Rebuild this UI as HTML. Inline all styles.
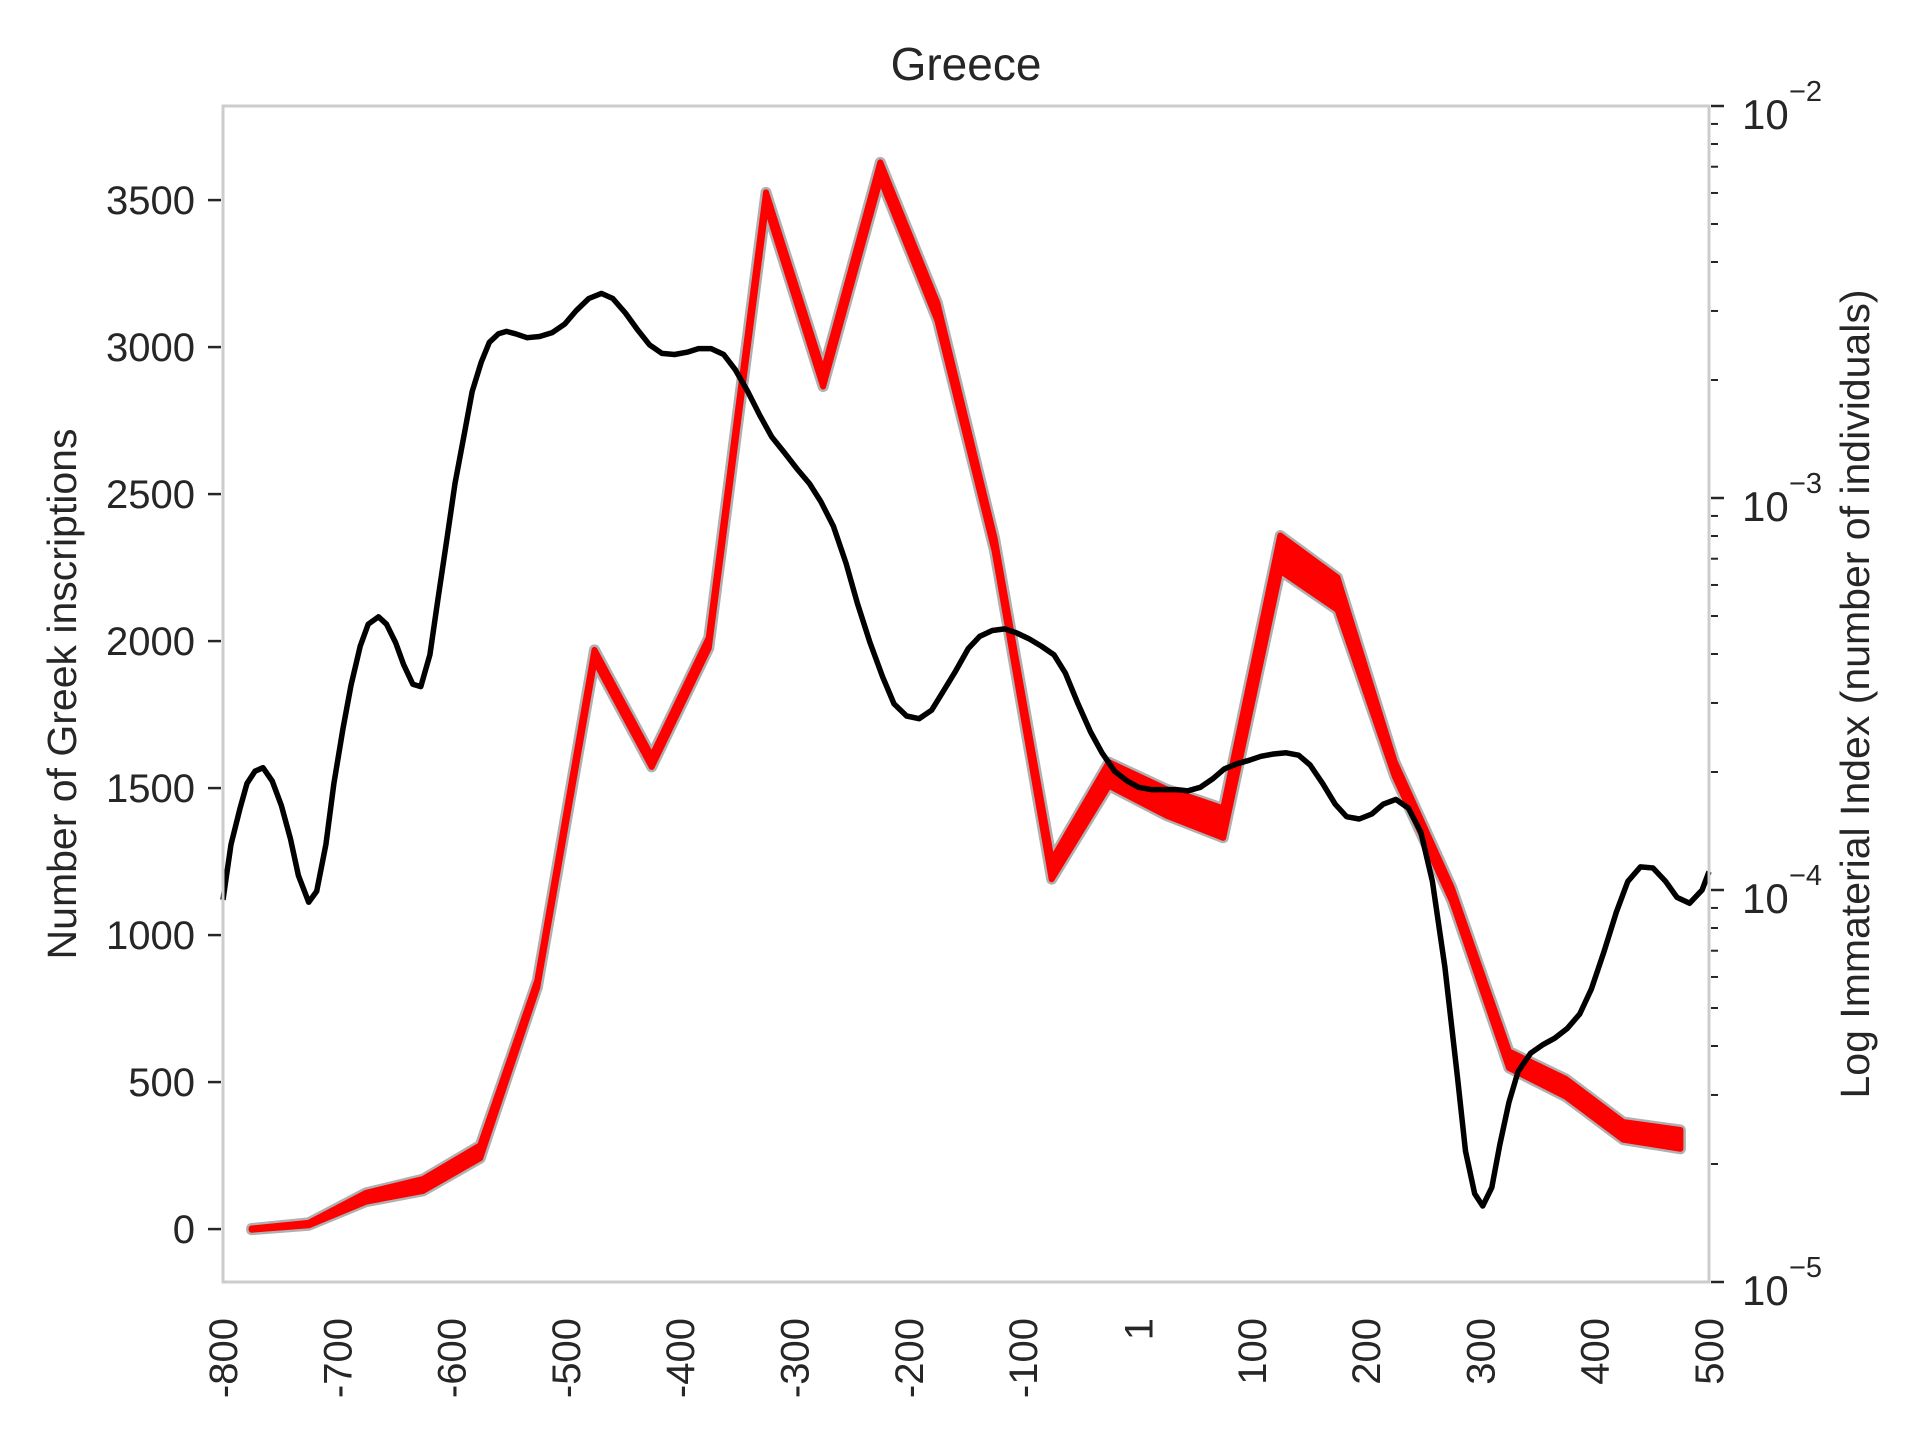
<!DOCTYPE html>
<html><head><meta charset="utf-8"><style>
html,body{margin:0;padding:0;background:#fff;}
svg{display:block;font-family:"Liberation Sans",Arial,sans-serif;}
</style></head><body>
<svg id="chart" width="1920" height="1440" viewBox="0 0 1920 1440" xmlns="http://www.w3.org/2000/svg">
<rect x="0" y="0" width="1920" height="1440" fill="#fff"/>
<g id="plot"></g>
<g id="axes"></g>
<text x="966" y="80" text-anchor="middle" font-size="46" fill="#262626">Greece</text>
<text transform="translate(76,694) rotate(-90)" text-anchor="middle" font-size="41" fill="#262626">Number of Greek inscriptions</text>
<text transform="translate(1869,694) rotate(-90)" text-anchor="middle" font-size="41" fill="#262626">Log Immaterial Index (number of individuals)</text>
</svg>
<script>
const redYears = [-775,-725,-675,-625,-575,-525,-475,-425,-375,-325,-275,-225,-175,-125,-75,-25,25,75,125,175,225,275,325,375,425,475];
const redValues = [0,17,108,150,263,834,1952,1590,1994,3504,2891,3600,3120,2328,1222,1548,1452,1381,2299,2161,1565,1139,576,480,334,305];
const redSpread = [2,4,15,20,22,12,18,18,18,22,25,28,30,22,32,40,45,50,60,55,25,22,28,30,30,32];
const blackYears = [-800,-793,-785,-779,-772,-765,-757,-749,-741,-734,-725,-718,-710,-703,-695,-688,-680,-673,-664,-657,-649,-642,-634,-627,-619,-612,-604,-597,-589,-582,-574,-567,-559,-552,-544,-534,-523,-512,-501,-491,-480,-469,-459,-448,-437,-427,-416,-405,-394,-384,-373,-362,-352,-341,-330,-320,-309,-298,-287,-277,-266,-255,-245,-234,-223,-213,-202,-191,-180,-170,-159,-148,-138,-127,-116,-106,-95,-84,-73,-63,-52,-41,-31,-20,-9,1,12,23,34,44,55,66,76,87,98,108,119,130,141,151,162,173,183,194,205,215,226,237,248,258,269,280,287,295,302,310,317,325,333,344,355,365,376,387,397,408,419,429,440,451,462,472,483,494,500];
const blackLog10 = [-4.025,-3.884,-3.791,-3.728,-3.697,-3.688,-3.722,-3.784,-3.869,-3.963,-4.031,-4.003,-3.884,-3.728,-3.588,-3.478,-3.378,-3.322,-3.303,-3.322,-3.369,-3.425,-3.475,-3.481,-3.4,-3.259,-3.103,-2.963,-2.838,-2.728,-2.653,-2.603,-2.581,-2.575,-2.581,-2.591,-2.588,-2.578,-2.556,-2.522,-2.491,-2.478,-2.491,-2.528,-2.572,-2.609,-2.631,-2.634,-2.628,-2.619,-2.619,-2.634,-2.672,-2.728,-2.791,-2.844,-2.884,-2.925,-2.963,-3.009,-3.072,-3.166,-3.269,-3.369,-3.456,-3.525,-3.556,-3.563,-3.541,-3.494,-3.441,-3.384,-3.353,-3.338,-3.334,-3.344,-3.359,-3.378,-3.4,-3.447,-3.525,-3.597,-3.65,-3.697,-3.722,-3.738,-3.744,-3.744,-3.744,-3.747,-3.738,-3.716,-3.691,-3.678,-3.669,-3.659,-3.653,-3.65,-3.656,-3.681,-3.728,-3.781,-3.813,-3.819,-3.806,-3.781,-3.769,-3.791,-3.853,-3.978,-4.197,-4.478,-4.666,-4.775,-4.806,-4.759,-4.65,-4.541,-4.463,-4.416,-4.394,-4.378,-4.353,-4.316,-4.253,-4.159,-4.056,-3.978,-3.941,-3.944,-3.978,-4.019,-4.034,-4.0,-3.953];
const xTickValues = [-800,-700,-600,-500,-400,-300,-200,-100,1,100,200,300,400,500];
const xTickLabels = ["-800","-700","-600","-500","-400","-300","-200","-100","1","100","200","300","400","500"];
const yTickValues = [0,500,1000,1500,2000,2500,3000,3500];
const yRightExponents = [-5,-4,-3,-2];

const L=223,R=1709,T=106,B=1282;
const xMin=-800,xMax=500,yMin=-180,yMax=3820,lMin=-5,lMax=-2;
const NS="http://www.w3.org/2000/svg";
function xs(v){return L+(v-xMin)/(xMax-xMin)*(R-L);}
function ys(v){return B-(v-yMin)/(yMax-yMin)*(B-T);}
function yl(lg){return B-(lg-lMin)/(lMax-lMin)*(B-T);}
function mk(tag,attrs,parent){const e=document.createElementNS(NS,tag);for(const k in attrs)e.setAttribute(k,attrs[k]);parent.appendChild(e);return e;}
const plot=document.getElementById('plot'),axes=document.getElementById('axes');

let up=[],lo=[];
for(let i=0;i<redYears.length;i++){up.push(xs(redYears[i]).toFixed(1)+','+ys(redValues[i]+redSpread[i]).toFixed(1));lo.unshift(xs(redYears[i]).toFixed(1)+','+ys(redValues[i]-redSpread[i]).toFixed(1));}
const pts=up.concat(lo).join(' ');
const g1=mk('polygon',{points:pts,fill:'#b0b0b0',stroke:'#b0b0b0','stroke-width':11,'stroke-linejoin':'round'},plot);


const r1=mk('polygon',{points:pts,fill:'#ff0000',stroke:'#ff0000','stroke-width':6,'stroke-linejoin':'round'},plot);


const rl=mk('polyline',{points:redYears.map((y,i)=>xs(y).toFixed(1)+','+ys(redValues[i]).toFixed(1)).join(' '),fill:'none',stroke:'#ff0000','stroke-width':6,'stroke-linejoin':'round'},plot);



const bl=mk('polyline',{points:blackYears.map((y,i)=>xs(y).toFixed(1)+','+yl(blackLog10[i]).toFixed(1)).join(' '),fill:'none',stroke:'#000','stroke-width':5.5,'stroke-linejoin':'round'},plot);



const sp=mk('rect',{x:L,y:T,width:R-L,height:B-T,fill:'none',stroke:'#cccccc','stroke-width':3},axes);



yTickValues.forEach(v=>{
  const y=ys(v);
  const t=mk('line',{x1:L-15,x2:L-2,y1:y,y2:y,stroke:'#262626','stroke-width':2.5},axes);
  
  
  const lb=mk('text',{x:L-28,y:y+14,'text-anchor':'end','font-size':40,fill:'#262626'},axes);
  lb.textContent=String(v);
  
  
});
xTickValues.forEach((v,i)=>{
  const x=xs(v);
  const lb=mk('text',{transform:'translate('+(x+14)+',1318) rotate(-90)','text-anchor':'end','font-size':40,fill:'#262626'},axes);
  lb.textContent=xTickLabels[i];
  
  
});
yRightExponents.forEach(e=>{
  const y=yl(e);
  const t=mk('line',{x1:R+2,x2:R+15,y1:y,y2:y,stroke:'#262626','stroke-width':2.5},axes);
  
  
  const lb=mk('text',{x:R+33,y:y+23,'font-size':42,fill:'#262626'},axes);
  lb.textContent='10';
  
  
  const sup=mk('text',{x:R+80,y:y-5,'font-size':29,fill:'#262626'},axes);
  sup.textContent='\u2212'+String(-e);
  
  
  if(e<lMax){for(let m=2;m<=9;m++){const ym=yl(e+Math.log10(m));
    const mt=mk('line',{x1:R+2,x2:R+9,y1:ym,y2:ym,stroke:'#262626','stroke-width':2},axes);
    
    }}
});
</script>
</body></html>
